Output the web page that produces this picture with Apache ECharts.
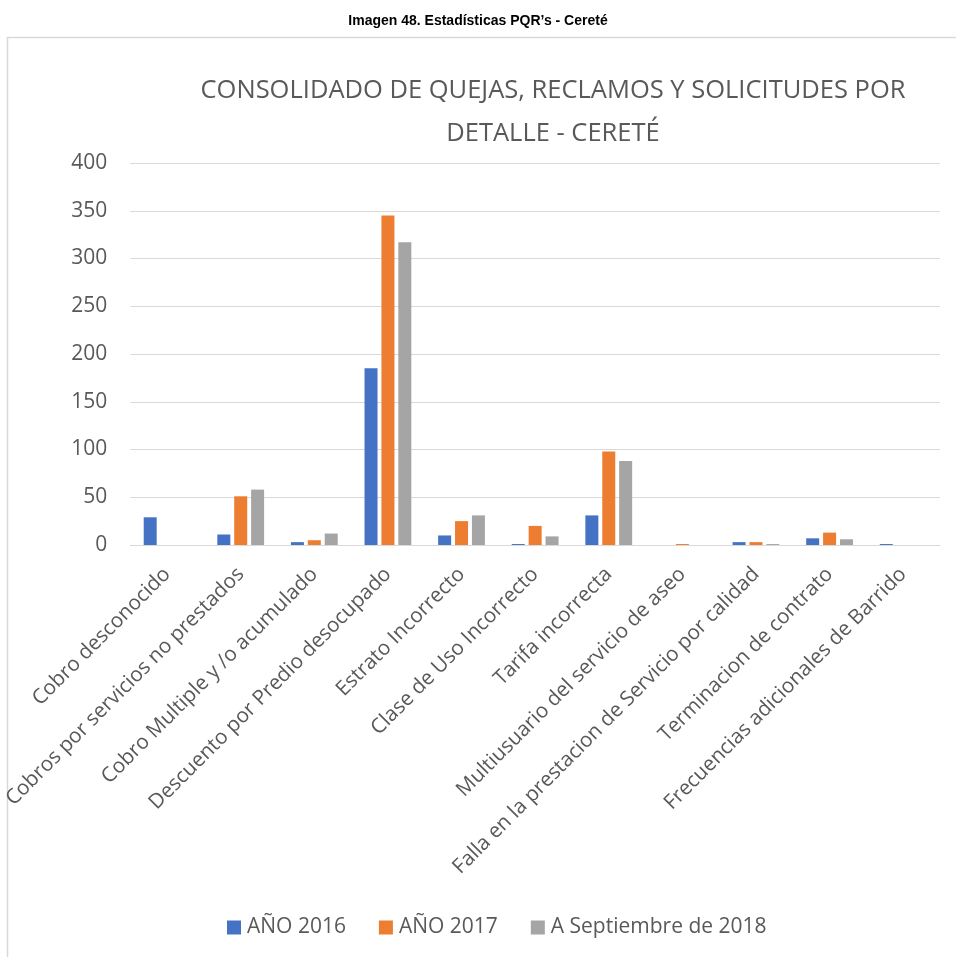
<!DOCTYPE html>
<html><head><meta charset="utf-8">
<script src="https://cdn.jsdelivr.net/npm/echarts@6/dist/echarts.min.js"></script>
<style>html,body{margin:0;padding:0;background:#fff}#c{width:956px;height:957px}</style>
</head><body><div id="c"></div>
<script>
const categories = ["Cobro desconocido","Cobros por servicios no prestados","Cobro Multiple y /o acumulado","Descuento por Predio desocupado","Estrato Incorrecto","Clase de Uso Incorrecto","Tarifa incorrecta","Multiusuario del servicio de aseo","Falla en la prestacion de Servicio por calidad","Terminacion de contrato","Frecuencias adicionales de Barrido"];
const seriesNames = ["AÑO 2016","AÑO 2017","A Septiembre de 2018"];
const y2016 = [29,11,3,185,10,1,31,0,3,7,1];
const y2017 = [0,51,5,345,25,20,98,1,3,13,0];
const y2018 = [0,58,12,317,31,9,88,0,1,6,0];
const colors = ["#4472C4","#ED7D31","#A5A5A5"];
const font = "'Open Sans', sans-serif";
const chart = echarts.init(document.getElementById('c'));
const mk = (name, data, i) => ({name, type:'bar', data, barWidth:13, barGap:'30%', itemStyle:{color:colors[i]}});
chart.setOption({
  animation:false,
  graphic:[{type:'rect', shape:{x:7.5,y:37.5,width:1000,height:1000}, style:{fill:'none', stroke:'#d9d9d9', lineWidth:1.5}, z:-1}],
  title:[
    {text:'Imagen 48. Estadísticas PQR’s - Cereté', left:'center', top:9, textStyle:{fontFamily:"'Liberation Sans', Arial, sans-serif", fontWeight:'bold', fontSize:14, color:'#000'}},
    {text:'CONSOLIDADO DE QUEJAS, RECLAMOS Y SOLICITUDES POR\nDETALLE - CERETÉ', left:548, textAlign:'center', top:64, textStyle:{fontFamily:font, fontWeight:'normal', fontSize:25.5, lineHeight:43, color:'#595959'}}
  ],
  legend:{top:912, left:222, itemWidth:14, itemHeight:14, itemGap:33, icon:'rect', textStyle:{fontFamily:font, fontSize:21, color:'#595959', padding:[0,0,0,1]}, data:seriesNames},
  grid:{left:130, right:16, top:163, bottom:412},
  xAxis:{type:'category', data:categories, axisTick:{show:false}, axisLine:{lineStyle:{color:'#d9d9d9'}},
    axisLabel:{rotate:45, interval:0, fontFamily:font, fontSize:20.6, color:'#595959', margin:26}},
  yAxis:{type:'value', min:0, max:400, interval:50, axisLine:{show:false}, axisTick:{show:false},
    splitLine:{lineStyle:{color:'#d9d9d9'}}, axisLabel:{fontFamily:font, fontSize:21, color:'#595959', margin:23}},
  series:[mk(seriesNames[0],y2016,0), mk(seriesNames[1],y2017,1), mk(seriesNames[2],y2018,2)]
});
</script></body></html>
